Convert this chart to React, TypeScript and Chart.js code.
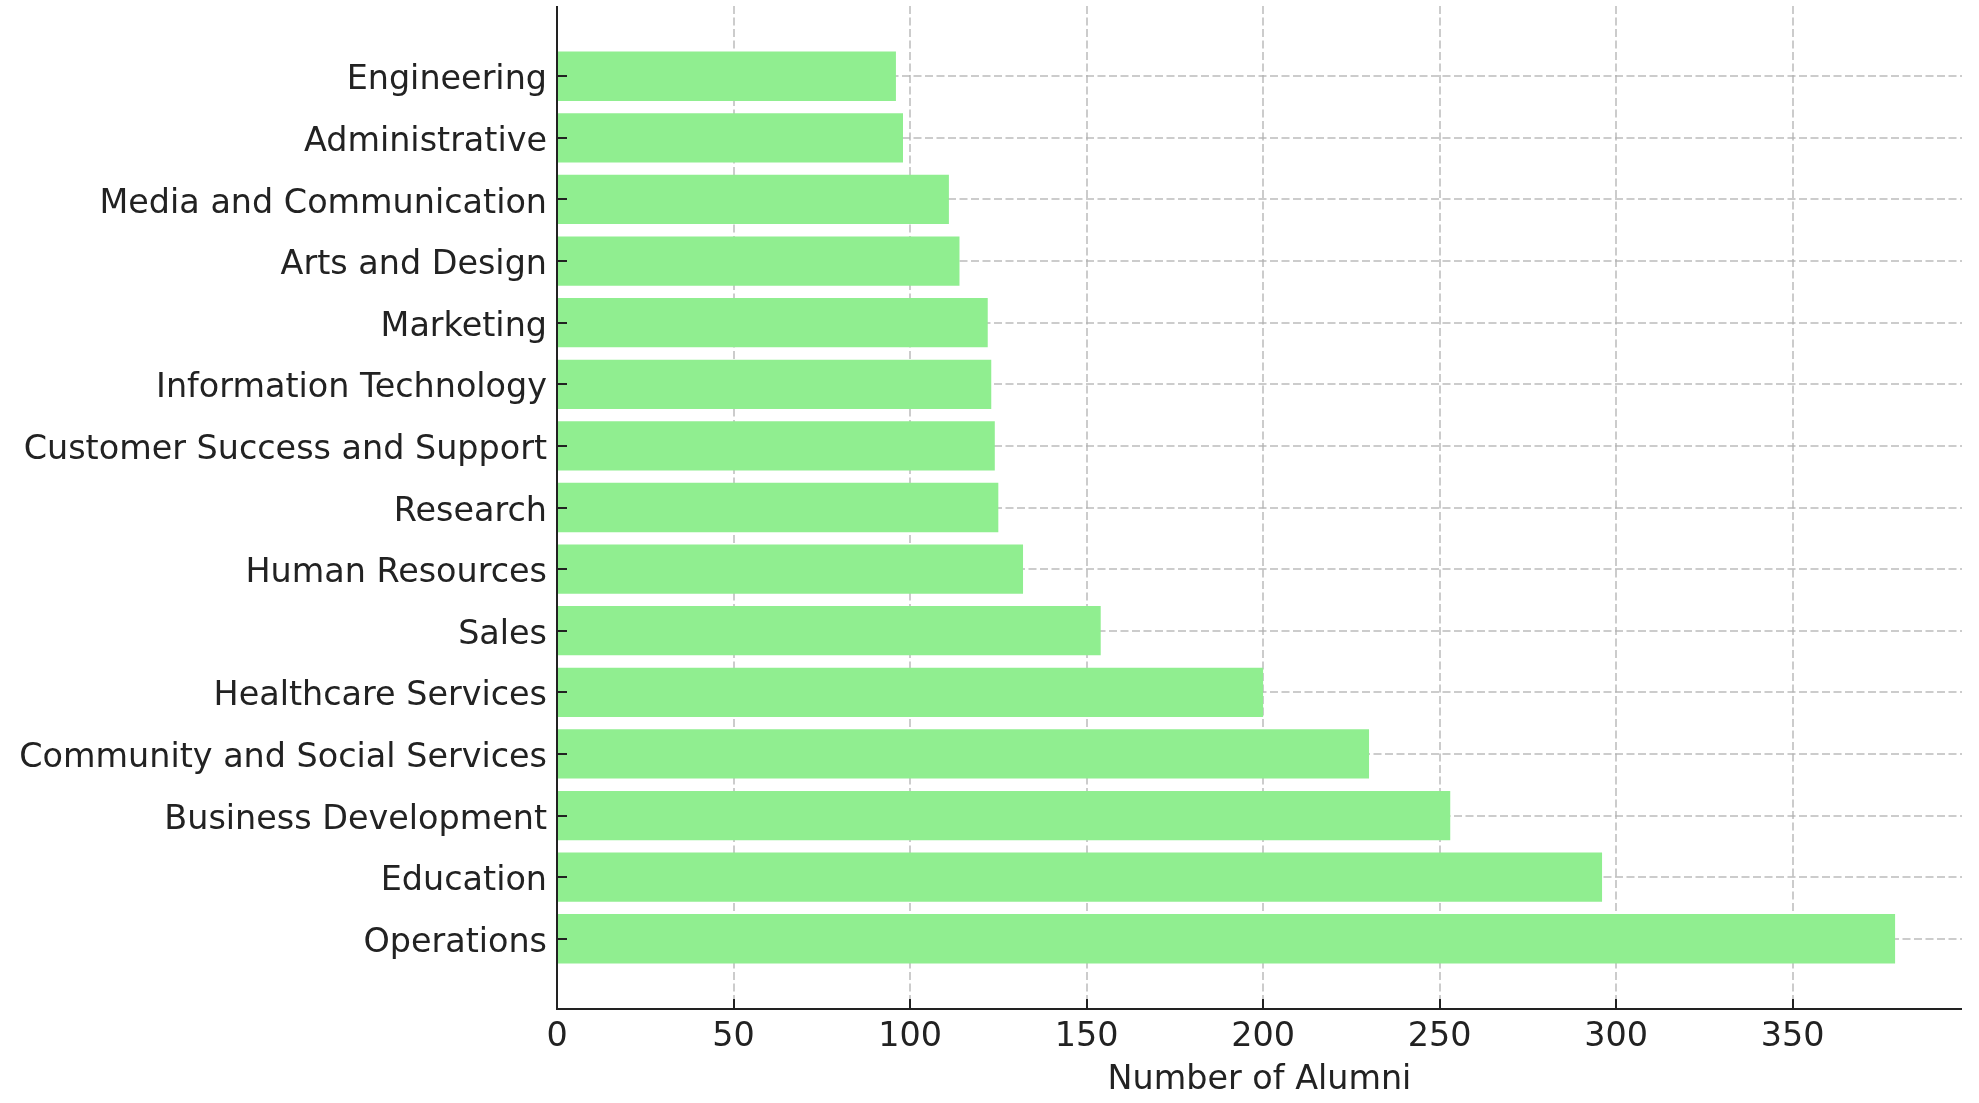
import React, { useEffect, useRef } from 'react';
import { Chart, registerables } from 'chart.js';

Chart.register(...registerables);

const categories = [
  'Operations',
  'Education',
  'Business Development',
  'Community and Social Services',
  'Healthcare Services',
  'Sales',
  'Human Resources',
  'Research',
  'Customer Success and Support',
  'Information Technology',
  'Marketing',
  'Arts and Design',
  'Media and Communication',
  'Administrative',
  'Engineering',
];
const alumni = [379, 296, 253, 230, 200, 154, 132, 125, 124, 123, 122, 114, 111, 98, 96];
const xTickValues = [0, 50, 100, 150, 200, 250, 300, 350];
const xAxisTitle = 'Number of Alumni';

const W = 1979;
const H = 1103;
const FONT = "'DejaVu Sans', 'Liberation Sans', sans-serif";
const FONT_SIZE = 33.4;
const TEXT = '#222222';
const AXIS = '#222222';
const GRID = 'rgba(176,176,176,0.65)';
const BAR = '#90EE90';
const DASH = [8, 3.5];

const inwardTicks = {
  id: 'inwardTicks',
  afterDraw(chart: any) {
    const { ctx, chartArea } = chart;
    const xs = chart.scales.x;
    const ys = chart.scales.y;
    ctx.save();
    ctx.strokeStyle = AXIS;
    ctx.lineWidth = 2;
    ctx.setLineDash([]);
    ctx.beginPath();
    xs.ticks.forEach((t: any) => {
      const px = Math.round(xs.getPixelForValue(t.value));
      ctx.moveTo(px, chartArea.bottom);
      ctx.lineTo(px, chartArea.bottom - 10);
    });
    ys.ticks.forEach((t: any) => {
      const py = Math.round(ys.getPixelForValue(t.value));
      ctx.moveTo(chartArea.left, py);
      ctx.lineTo(chartArea.left + 10, py);
    });
    ctx.stroke();
    // solid axis spines
    ctx.beginPath();
    ctx.moveTo(chartArea.left, chartArea.top);
    ctx.lineTo(chartArea.left, chartArea.bottom);
    ctx.lineTo(chartArea.right, chartArea.bottom);
    ctx.stroke();
    ctx.restore();
  },
};

export default function App() {
  const ref = useRef<HTMLCanvasElement | null>(null);

  useEffect(() => {
    if (!ref.current) return;
    const n = categories.length;
    const span = n - 1 + 0.8;
    const yMin = -0.4 - 0.05 * span;
    const yMax = n - 1 + 0.4 + 0.05 * span;
    const xMax = Math.max(...alumni) * 1.05;

    const chart = new Chart(ref.current, {
      type: 'bar',
      data: {
        datasets: [
          {
            data: alumni.map((v, i) => ({ x: v, y: i })),
            backgroundColor: BAR,
            borderWidth: 0,
            categoryPercentage: 1,
            barPercentage: 0.8,
          } as any,
        ],
      },
      plugins: [inwardTicks],
      options: {
        indexAxis: 'y',
        responsive: false,
        animation: false,
        layout: { padding: { left: 0, right: 17, top: 6, bottom: 0 } },
        plugins: {
          legend: { display: false },
          tooltip: { enabled: false },
        },
        scales: {
          x: {
            type: 'linear',
            min: 0,
            max: xMax,
            offset: false,
            z: 1,
            afterBuildTicks: (scale: any) => {
              scale.ticks = xTickValues.map((v) => ({ value: v }));
            },
            afterFit: (scale: any) => {
              scale.height = 94;
              scale.paddingLeft = 0;
              scale.paddingRight = 0;
            },
            grid: {
              color: GRID,
              lineWidth: 2,
              drawTicks: false,
              offset: false,
            },
            border: { display: false, dash: DASH },
            ticks: {
              color: TEXT,
              font: { family: FONT, size: FONT_SIZE },
              padding: 8,
              maxRotation: 0,
              autoSkip: false,
            },
            title: {
              display: true,
              text: xAxisTitle,
              color: TEXT,
              font: { family: FONT, size: FONT_SIZE },
              padding: { top: 0, bottom: 3 },
            },
          } as any,
          y: {
            type: 'linear',
            min: yMin,
            max: yMax,
            offset: false,
            z: 1,
            afterBuildTicks: (scale: any) => {
              scale.ticks = categories.map((_, i) => ({ value: i }));
            },
            afterFit: (scale: any) => {
              scale.width = 557;
              scale.paddingTop = 0;
              scale.paddingBottom = 0;
            },
            grid: {
              color: GRID,
              lineWidth: 2,
              drawTicks: false,
              offset: false,
            },
            border: { display: false, dash: DASH },
            ticks: {
              color: TEXT,
              font: { family: FONT, size: FONT_SIZE, lineHeight: '9px' },
              padding: 10,
              autoSkip: false,
              // blank first line nudges the label down slightly
              callback: (v: any) => ['', categories[v as number] ?? ''],
            },
          } as any,
        },
      },
    });

    return () => chart.destroy();
  }, []);

  return (
    <div style={{ position: 'absolute', left: 0, top: 0, width: W, height: H, background: '#ffffff' }}>
      <canvas ref={ref} width={W} height={H} style={{ width: W, height: H, display: 'block' }} />
    </div>
  );
}
